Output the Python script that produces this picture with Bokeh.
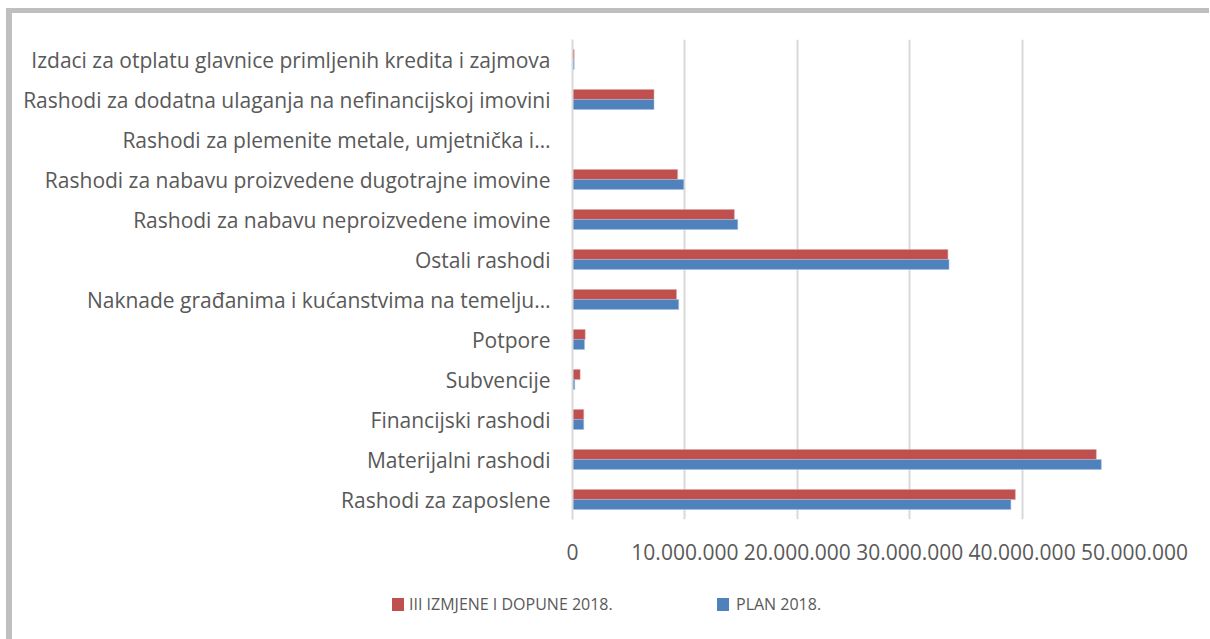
from bokeh.plotting import figure
from bokeh.layouts import column
from bokeh.models import ColumnDataSource, FactorRange, FixedTicker, Div
from bokeh.transform import dodge
from bokeh.embed import file_html
from bokeh.resources import INLINE

# categories listed bottom -> top
categories = [
    "Rashodi za zaposlene",
    "Materijalni rashodi",
    "Financijski rashodi",
    "Subvencije",
    "Potpore",
    "Naknade građanima i kućanstvima na temelju…",
    "Ostali rashodi",
    "Rashodi za nabavu neproizvedene imovine",
    "Rashodi za nabavu proizvedene dugotrajne imovine",
    "Rashodi za plemenite metale, umjetnička i…",
    "Rashodi za dodatna ulaganja na nefinancijskoj imovini",
    "Izdaci za otplatu glavnice primljenih kredita i zajmova",
]
izmjene = [39400000, 46600000, 1000000, 680000, 1130000, 9250000, 33400000, 14400000, 9350000, 0, 7250000, 150000]
plan = [39000000, 47050000, 1000000, 200000, 1070000, 9450000, 33500000, 14700000, 9900000, 0, 7250000, 150000]
series_names = ["III IZMJENE I DOPUNE 2018.", "PLAN 2018."]
tick_values = [0, 10000000, 20000000, 30000000, 40000000, 50000000]
tick_labels = ["0", "10.000.000", "20.000.000", "30.000.000", "40.000.000", "50.000.000"]

FONT = "Open Sans"
TXT = "#595959"
RED = "#C0504D"
BLUE = "#4F81BD"

src = ColumnDataSource(dict(cat=categories, izm=izmjene, plan=plan))

p = figure(
    y_range=FactorRange(*categories),
    x_range=(0, 50000000),
    width=1197, height=556,
    min_border_left=560, min_border_top=26, min_border_right=75, min_border_bottom=50,
    output_backend="svg", toolbar_location=None,
)
p.outline_line_color = None

p.hbar(y=dodge("cat", 0.125, range=p.y_range), right="izm", left=0, height=0.25,
       source=src, fill_color=RED, line_color="#D9A3A2", line_width=0.5)
p.hbar(y=dodge("cat", -0.125, range=p.y_range), right="plan", left=0, height=0.25,
       source=src, fill_color=BLUE, line_color="#A7C0DE", line_width=0.5)

p.xaxis.ticker = FixedTicker(ticks=tick_values)
p.xaxis.major_label_overrides = {v: l for v, l in zip(tick_values, tick_labels)}
p.xaxis.axis_line_color = None
p.xaxis.major_tick_line_color = None
p.xaxis.minor_tick_line_color = None
p.xaxis.major_label_text_font = FONT
p.xaxis.major_label_text_font_size = "21px"
p.xaxis.major_label_text_color = TXT
p.xaxis.major_label_standoff = 18

p.yaxis.axis_line_color = "#D9D9D9"
p.yaxis.axis_line_width = 2
p.yaxis.major_tick_line_color = None
p.yaxis.minor_tick_line_color = None
p.yaxis.major_label_text_font = FONT
p.yaxis.major_label_text_font_size = "21px"
p.yaxis.major_label_text_color = TXT
p.yaxis.major_label_standoff = 16

p.ygrid.grid_line_color = None
p.xgrid.grid_line_color = "#D9D9D9"
p.xgrid.grid_line_width = 2

# legend strip below the chart (HTML, real text)
colors = [RED, BLUE]
sq_left = [380, 705]
lbl_left = [397, 724]
parts = []
for name, c, sx, lx in zip(series_names, colors, sq_left, lbl_left):
    parts.append(f'<div style="position:absolute;left:{sx}px;top:29px;width:12px;height:13px;background:{c};"></div>')
    parts.append(f'<div style="position:absolute;left:{lx}px;top:25px;line-height:20px;white-space:nowrap;">{name}</div>')
html = (f'<div style="position:relative;width:1197px;height:70px;font-family:\'{FONT}\';'
        f'font-size:16px;color:{TXT};">' + "".join(parts) + '</div>')
leg = Div(text=html, width=1197, height=70, margin=0)

layout = column(p, leg, spacing=0,
                styles={"border-left": "6px solid #BFBFBF", "border-top": "5px solid #BFBFBF",
                        "margin-left": "6px", "margin-top": "8px"})

open("out.html", "w").write(file_html(layout, INLINE))
